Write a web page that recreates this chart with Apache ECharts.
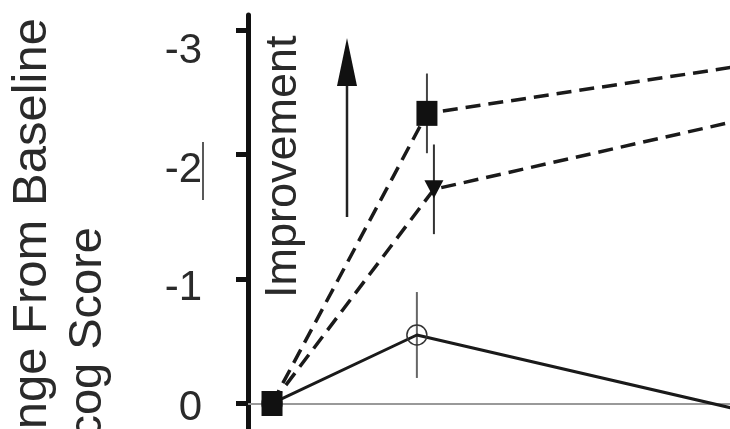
<!DOCTYPE html>
<html>
<head>
<meta charset="utf-8">
<script src="https://cdn.jsdelivr.net/npm/echarts@6/dist/echarts.min.js"></script>
<style>
html,body{margin:0;padding:0;background:#fff;}
#chart{width:730px;height:429px;}
</style>
</head>
<body>
<div id="chart"></div>
<script>
// ---- data ----
const weeksCircle   = [0, 3.74, 14];
const weeksSquare   = [0, 4.0, 14];
const weeksTriangle = [0, 4.18, 14];

const meanCircle   = [0, -0.55, 0.19];
const meanSquare   = [0, -2.33, -2.80];
const meanTriangle = [0, -1.72, -2.41];

const errCircle   = [0, 0.345, 0];
const errSquare   = [0, 0.32, 0];
const errTriangle = [0, 0.36, 0];

const yTickValues = [-3, -2, -1, 0];
const yTickLabels = ['-3', '-2', '-1', '0'];

const titleLine1 = 'nge From Baseline';
const titleLine2 = 'cog Score';
const annotation = 'Improvement';

// ---- build ----
const FONT = "'Liberation Sans', Arial, Helvetica, sans-serif";
function pts(xs, ys) { return xs.map((x, i) => [x, ys[i]]); }
function errPts(xs, ys, es) { return xs.map((x, i) => [x, ys[i], es[i]]); }

const labelOffsets = [42, 31, 18, 9]; // style: per-label vertical nudge
const rich = {};
yTickLabels.forEach((t, i) => {
  rich['l' + i] = { fontSize: 42, fontFamily: FONT, color: '#2a2a2a', padding: [labelOffsets[i], 0, 0, 0] };
});

function errorSeries(xs, ys, es, color) {
  return {
    type: 'custom',
    z: 1,
    silent: true,
    data: errPts(xs, ys, es),
    renderItem: function (params, api) {
      const x = api.value(0), m = api.value(1), e = api.value(2);
      if (!e) return null;
      const a = api.coord([x, m - e]);
      const b = api.coord([x, m + e]);
      return { type: 'line', shape: { x1: a[0], y1: a[1], x2: b[0], y2: b[1] },
               style: { stroke: color, lineWidth: 2 } };
    }
  };
}

const chart = echarts.init(document.getElementById('chart'), null, { renderer: 'canvas' });
chart.setOption({
  animation: false,
  backgroundColor: '#ffffff',
  grid: { left: 248, top: 15, width: 605, height: 414, containLabel: false, outerBoundsMode: 'none' },
  xAxis: {
    type: 'value', min: -0.62, max: 15,
    axisLine: { show: true, onZero: true, lineStyle: { color: '#999', width: 2 } },
    axisTick: { show: false }, axisLabel: { show: false }, splitLine: { show: false }
  },
  yAxis: {
    type: 'value', inverse: true, min: -3.12, max: 0.205,
    axisLine: { show: true, onZero: false, lineStyle: { color: '#111', width: 5 } },
    axisTick: { show: true, inside: false, length: 12, lineStyle: { color: '#111', width: 5 }, customValues: yTickValues },
    axisLabel: {
      show: true, margin: 46, customValues: yTickValues,
      verticalAlign: 'middle',
      formatter: function (v) {
        const i = yTickValues.indexOf(Math.round(v));
        return '{l' + i + '|' + yTickLabels[i] + '}';
      },
      rich: rich
    },
    splitLine: { show: false }
  },
  series: [
    errorSeries(weeksCircle, meanCircle, errCircle, '#666'),
    errorSeries(weeksTriangle, meanTriangle, errTriangle, '#333'),
    errorSeries(weeksSquare, meanSquare, errSquare, '#444'),
    {
      type: 'line', name: 'circle', z: 3,
      data: pts(weeksCircle, meanCircle),
      symbol: 'circle', symbolSize: 20,
      lineStyle: { color: '#1a1a1a', width: 3, type: 'solid' },
      itemStyle: { color: 'rgba(255,255,255,0)', borderColor: '#333', borderWidth: 1.5 }
    },
    {
      type: 'line', name: 'triangle', z: 4,
      data: pts(weeksTriangle, meanTriangle),
      symbol: 'triangle', symbolRotate: 180, symbolSize: [19, 18],
      lineStyle: { color: '#1a1a1a', width: 3.5, type: [15, 8] },
      itemStyle: { color: '#111' }
    },
    {
      type: 'line', name: 'square', z: 5,
      data: pts(weeksSquare, meanSquare),
      symbol: 'rect', symbolSize: [21, 25],
      lineStyle: { color: '#1a1a1a', width: 3.5, type: [15, 8] },
      itemStyle: { color: '#111' }
    }
  ],
  graphic: [
    { type: 'text', x: 32, y: 18, rotation: Math.PI / 2,
      style: { text: titleLine1, font: '49px ' + FONT, fill: '#2a2a2a', align: 'right', verticalAlign: 'middle' } },
    { type: 'text', x: 88, y: 227, rotation: Math.PI / 2,
      style: { text: titleLine2, font: '47px ' + FONT, fill: '#2a2a2a', align: 'right', verticalAlign: 'middle' } },
    { type: 'text', x: 284, y: 298, rotation: Math.PI / 2,
      style: { text: annotation, font: '45px ' + FONT, fill: '#2a2a2a', align: 'left', verticalAlign: 'middle' } },
    { type: 'line', shape: { x1: 347, y1: 217, x2: 347, y2: 82 }, style: { stroke: '#222', lineWidth: 2.5 } },
    { type: 'polygon', shape: { points: [[347, 38], [337, 86], [357, 86]] }, style: { fill: '#111' } },
    { type: 'line', shape: { x1: 203, y1: 142, x2: 203, y2: 200 }, style: { stroke: '#222', lineWidth: 1.5 } }
  ]
});
</script>
</body>
</html>
